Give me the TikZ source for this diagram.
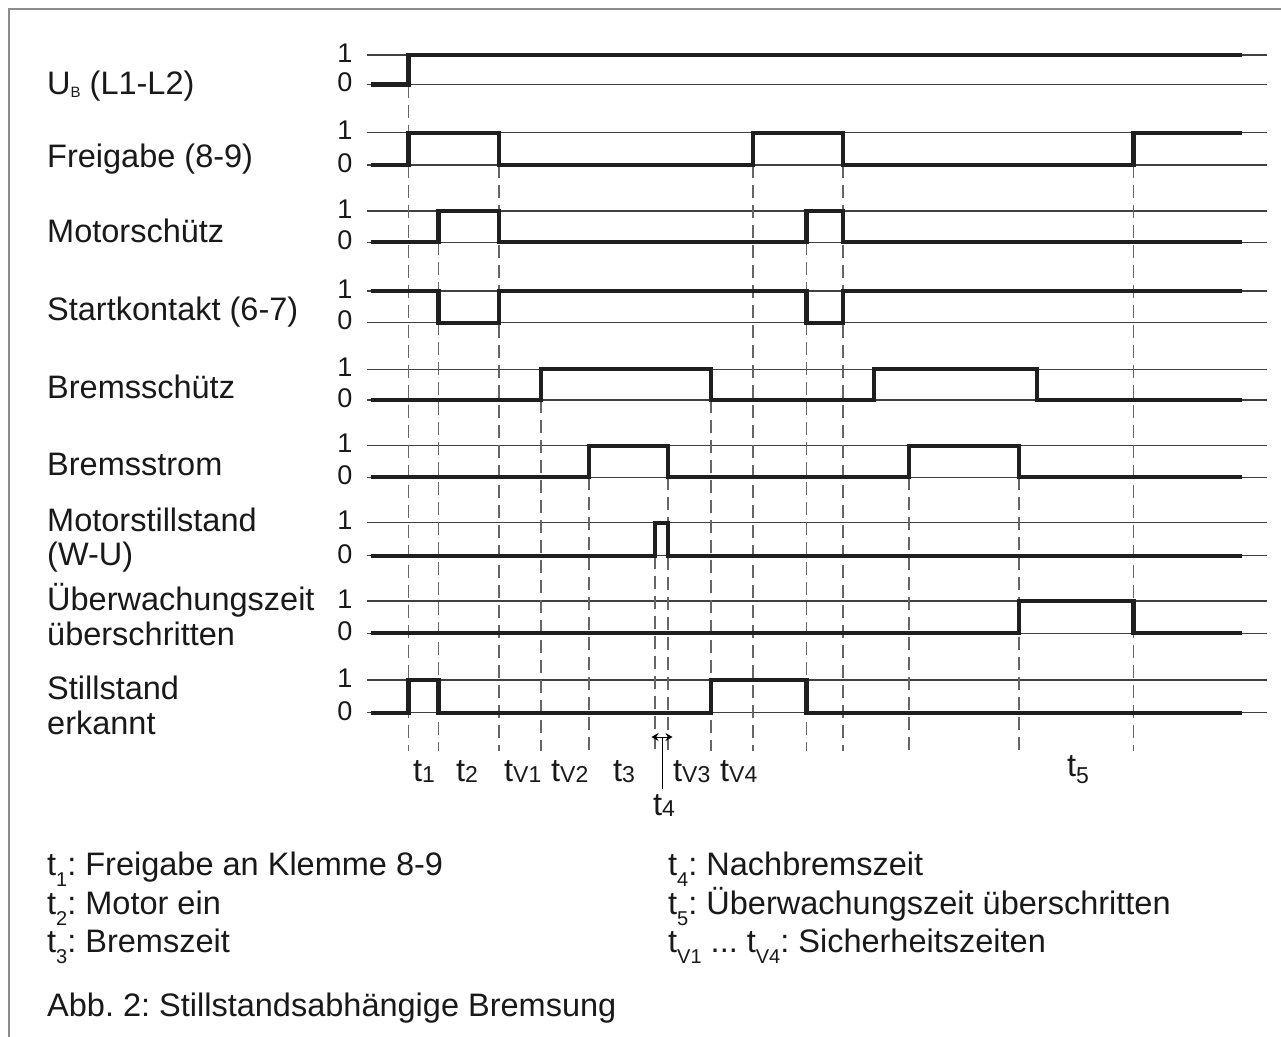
\documentclass[tikz,border=0pt]{standalone}
\usepackage{fontspec}
\setmainfont{Liberation Sans}
\usetikzlibrary{arrows.meta}
\frenchspacing
% small indices for the time markers and the legend
\newcommand{\tsub}[1]{\raisebox{-1.5pt}{\fontsize{23}{23}\selectfont #1}}
\newcommand{\lsub}[1]{\raisebox{-11pt}{\fontsize{20}{20}\selectfont #1}}
\begin{document}
\begin{tikzpicture}[x=1pt,y=-1pt,
  sig/.style={line width=4.2pt, draw=black!88, line join=miter},
  refline/.style={line width=1.2pt, draw=black!75},
  guide/.style={line width=1.4pt, draw=black!60, dash pattern=on 13pt off 7pt},
  lbl/.style={anchor=base west, inner sep=0pt, font=\fontsize{32.5}{38}\selectfont, text=black!90},
  lvl/.style={anchor=center, inner sep=0pt, font=\fontsize{27}{27}\selectfont, text=black!90},
]
\useasboundingbox (0,0) rectangle (1281,1036);
\clip (0,0) rectangle (1281,1036);
\fill[white] (0,0) rectangle (1281,1036);
% outer frame
\draw[line width=2pt, draw=black!45] (9,9) rectangle (1320,1080);

% level lines and 1/0 marks of the nine signals
\foreach \hi/\lo/\n in {55/84.5/a, 132.7/165/b, 211/242.3/c, 291/322.7/d, 369.3/400/e,
                        445.7/477.3/f, 522.7/555.7/g, 601/633.3/h, 680/712.7/i} {
  \draw[refline] (367,\hi) -- (1267,\hi);
  \draw[refline] (367,\lo) -- (1267,\lo);
  \node[lvl] (one\n) at (345,\hi-2) {1};
  \node[lvl] (zero\n) at (345,\lo-2) {0};
}

% dashed time markers
\foreach \x/\y in {408.5/84.5, 438.5/242.3, 499/165, 541/400, 589/477.3, 655/555.7,
                   668/477.3, 711/400, 753/165, 806.5/242.3, 843/165, 909/477.3,
                   1019/477.3, 1133.5/165}
  \draw[guide] (\x,\y) -- (\x,751);

% signal traces
\draw[sig] (371,84.5) -| (408.5,55) -- (1242,55);
\draw[sig] (371,165) -| (408.5,132.7) -| (499,165) -| (753,132.7) -| (843,165)
           -| (1133.5,132.7) -- (1242,132.7);
\draw[sig] (371,242.3) -| (438.5,211) -| (499,242.3) -| (806.5,211) -| (843,242.3)
           -- (1242,242.3);
\draw[sig] (371,291) -| (438.5,322.7) -| (499,291) -| (806.5,322.7) -| (843,291)
           -- (1242,291);
\draw[sig] (371,400) -| (541,369.3) -| (711,400) -| (874,369.3) -| (1037,400)
           -- (1242,400);
\draw[sig] (371,477.3) -| (589,445.7) -| (668,477.3) -| (909,445.7) -| (1019,477.3)
           -- (1242,477.3);
\draw[sig] (371,555.7) -| (655,522.7) -| (668,555.7) -- (1242,555.7);
\draw[sig] (371,633.3) -| (1019,601) -| (1133.5,633.3) -- (1242,633.3);
\draw[sig] (371,712.7) -| (408.5,680) -| (438.5,712.7) -| (711,680) -| (806.5,712.7)
           -- (1242,712.7);

% signal names
\node[lbl] (ub)   at (47,94)  {U\raisebox{-3pt}{\fontsize{15}{15}\selectfont B} (L1-L2)};
\node[lbl] (fg)   at (47,167) {Freigabe (8-9)};
\node[lbl] (ms)   at (47,242) {Motorschütz};
\node[lbl] (sk)   at (47,320) {Startkontakt (6-7)};
\node[lbl] (bs)   at (47,398) {Bremsschütz};
\node[lbl] (bst)  at (47,475) {Bremsstrom};
\node[lbl] (mst)  at (47,531) {Motorstillstand};
\node[lbl] (mstb) at (47,565) {(W-U)};
\node[lbl] (uw)   at (47,610) {Überwachungszeit};
\node[lbl] (uwb)  at (47,645) {überschritten};
\node[lbl] (se)   at (47,699) {Stillstand};
\node[lbl] (seb)  at (47,734) {erkannt};

% interval names
\node[lbl] (lt1)  at (413,781)  {t\tsub{1}};
\node[lbl] (lt2)  at (456,781)  {t\tsub{2}};
\node[lbl] (ltv1) at (504,781)  {t\tsub{V1}};
\node[lbl] (ltv2) at (551,781)  {t\tsub{V2}};
\node[lbl] (lt3)  at (613,781)  {t\tsub{3}};
\node[lbl] (ltv3) at (673,781)  {t\tsub{V3}};
\node[lbl] (ltv4) at (720,781)  {t\tsub{V4}};
\node[lbl] (lt5)  at (1067,776) {t\raisebox{-7pt}{\fontsize{23}{23}\selectfont 5}};
\node[lbl] (lt4)  at (653,815)  {t\tsub{4}};

% short interval t4
\coordinate (ta) at (651.5,737);
\coordinate (tb) at (672.5,737);
\coordinate (tm) at (662.5,737);
\coordinate (tl) at (662.5,789);
\draw[line width=1pt, {Stealth[length=7pt,width=8pt]}-{Stealth[length=7pt,width=8pt]}] (ta) -- (tb);
\draw[line width=1.1pt] (tm) -- (tl);

% legend
\node[lbl] (k1) at (47,875)  {t\lsub{1}: Freigabe an Klemme 8-9};
\node[lbl] (k2) at (47,914)  {t\lsub{2}: Motor ein};
\node[lbl] (k3) at (47,952)  {t\lsub{3}: Bremszeit};
\node[lbl] (k4) at (668,875) {t\lsub{4}: Nachbremszeit};
\node[lbl] (k5) at (668,914) {t\lsub{5}: Überwachungszeit überschritten};
\node[lbl] (k6) at (668,952) {t\lsub{V1} ... t\lsub{V4}: Sicherheitszeiten};
\node[lbl] (cap) at (47,1016) {Abb. 2: Stillstandsabhängige Bremsung};
\end{tikzpicture}
\end{document}
